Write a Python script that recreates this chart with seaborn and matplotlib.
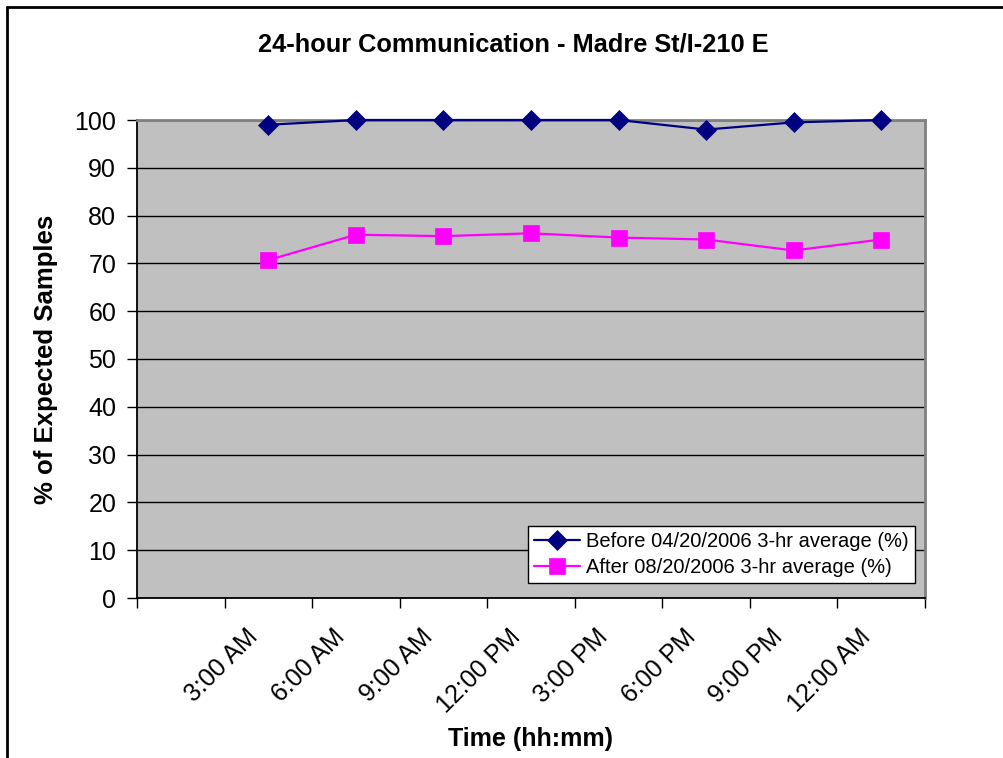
import numpy as np
import pandas as pd
import matplotlib
matplotlib.use("Agg")
import matplotlib.pyplot as plt
from matplotlib.lines import Line2D
from matplotlib.ticker import FixedLocator
import seaborn as sns

# data (first category slot is empty)
time_labels = ["", "3:00 AM", "6:00 AM", "9:00 AM", "12:00 PM",
               "3:00 PM", "6:00 PM", "9:00 PM", "12:00 AM"]
before_pct = [np.nan, 99.0, 100.0, 100.0, 100.0, 100.0, 98.0, 99.5, 100.0]
after_pct = [np.nan, 70.7, 76.0, 75.7, 76.3, 75.4, 75.0, 72.7, 75.0]
before_name = "Before 04/20/2006 3-hr average (%)"
after_name = "After 08/20/2006 3-hr average (%)"

df = pd.DataFrame({"slot": np.arange(len(time_labels)),
                   "before": before_pct, "after": after_pct})

sns.set_style("white")
plt.rcParams["font.family"] = ["Liberation Sans", "DejaVu Sans"]
plt.rcParams["text.color"] = "black"
plt.rcParams["axes.labelcolor"] = "black"
plt.rcParams["xtick.color"] = "black"
plt.rcParams["ytick.color"] = "black"

fig = plt.figure(figsize=(10.04, 7.58), dpi=100)
ax = fig.add_axes([137 / 1004, 1 - 598 / 758, 788 / 1004, 478 / 758])
ax.set_facecolor("#C0C0C0")

sns.lineplot(data=df, x="slot", y="before", ax=ax, color="#000080",
             marker="D", markersize=10.5, markeredgecolor="#000080",
             markeredgewidth=0.5, linewidth=1.6, label=before_name,
             clip_on=False, zorder=4)
sns.lineplot(data=df, x="slot", y="after", ax=ax, color="#FF00FF",
             marker="s", markersize=11.5, markeredgecolor="#FF00FF",
             markeredgewidth=0.5, linewidth=1.6, label=after_name,
             clip_on=False, zorder=4)

ax.set_xlim(-0.5, len(time_labels) - 0.5)
ax.set_ylim(0, 100)
ax.set_yticks(range(0, 101, 10))
ax.yaxis.grid(True, color="black", linewidth=1.0)
ax.set_axisbelow(True)

# rotated labels sit a little left of the slot centre, like Excel
ax.set_xticks(np.arange(len(time_labels)) - 0.11)
ax.set_xticklabels(time_labels, rotation=45, ha="right", va="baseline",
                   rotation_mode="anchor", fontsize=18)
ax.xaxis.set_minor_locator(FixedLocator(np.arange(-0.5, len(time_labels), 1)))
ax.tick_params(axis="x", which="major", length=0, pad=29)
ax.tick_params(axis="x", which="minor", length=7, width=1, color="black",
               direction="out", bottom=True)
ax.tick_params(axis="y", length=7, width=1, color="black", direction="out",
               left=True, labelsize=18, pad=8)

for side in ["left", "bottom"]:
    ax.spines[side].set_color("black")
    ax.spines[side].set_linewidth(1.3)
for side in ["top", "right"]:
    ax.spines[side].set_color("#808080")
    ax.spines[side].set_linewidth(2)

ax.set_xlabel("Time (hh:mm)", fontsize=18, fontweight="bold")
ax.set_ylabel("% of Expected Samples", fontsize=18.5, fontweight="bold")
ax.xaxis.set_label_coords(0.5, -0.27)
ax.yaxis.set_label_coords(-0.1, 0.5)

leg = ax.legend(loc="lower right", bbox_to_anchor=(0.987, 0.031),
                borderaxespad=0, fontsize=14.5, frameon=True, fancybox=False,
                framealpha=1, edgecolor="black", handlelength=2.3,
                handletextpad=0.3, borderpad=0.3, labelspacing=0.35)
leg.get_frame().set_linewidth(1.0)

fig.text(513 / 1004, 1 - 45 / 758, "24-hour Communication - Madre St/I-210 E",
         ha="center", va="center", fontsize=18.3, fontweight="bold")

# outer chart border (only top and left visible in the crop)
fig.add_artist(Line2D([7 / 1004, 7 / 1004], [0, 1 - 7 / 758],
                      transform=fig.transFigure, color="black", linewidth=2))
fig.add_artist(Line2D([7 / 1004, 1], [1 - 7 / 758, 1 - 7 / 758],
                      transform=fig.transFigure, color="black", linewidth=2))

fig.savefig("out.png", dpi=100, facecolor="white")
